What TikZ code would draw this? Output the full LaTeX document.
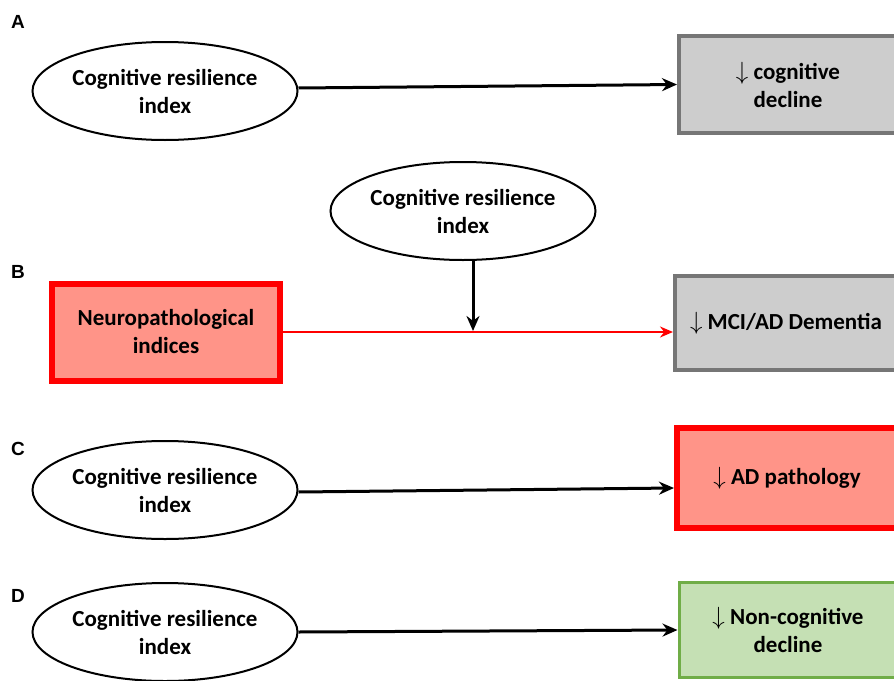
\documentclass[tikz,border=0pt]{standalone}
\usepackage{fontspec}
\setmainfont{Carlito}
\newfontfamily\panelfont{Liberation Sans}
\usepackage{tikz}
\usetikzlibrary{arrows.meta,shapes,positioning}
\usepackage{xcolor}
\definecolor{crgray}{RGB}{205,205,205}
\definecolor{crgraydark}{RGB}{118,118,118}
\definecolor{crred}{RGB}{255,0,0}
\definecolor{crsalmon}{RGB}{255,148,136}
\definecolor{crgreen}{RGB}{112,173,71}
\definecolor{crlightgreen}{RGB}{197,224,180}
\tikzstyle{arrow} = [line width=3pt,-{Stealth[length=15pt,width=13pt]}]
\tikzstyle{redarrow} = [line width=2pt,-{Stealth[length=13pt,width=11pt]},color=crred]
\tikzstyle{panel} = [font=\panelfont\bfseries\fontsize{19}{22}\selectfont]
\tikzstyle{resil} = [ellipse, draw, line width=2pt, fill=white, minimum width=265pt, minimum height=98pt, inner sep=0pt, align=center, font=\bfseries\fontsize{23}{28}\selectfont]
\tikzstyle{outcome} = [rectangle, minimum width=218pt, minimum height=97pt, inner sep=0pt, align=center, font=\bfseries\fontsize{23}{28}\selectfont]
\tikzstyle{graybox} = [outcome, draw=crgraydark, fill=crgray, line width=4pt]
\tikzstyle{redbox} = [outcome, draw=crred, fill=crsalmon, line width=6pt]
\tikzstyle{greenbox} = [outcome, draw=crgreen, fill=crlightgreen, line width=3pt]

\begin{document}
\begin{tikzpicture}[x=1pt, y=-1pt, node distance=623pt]
\useasboundingbox (0,0) rectangle (894,680);

% Panel labels
\node (lbla) [panel] at (18,22) {A};
\node (lblb) [panel] at (18,272) {B};
\node (lblc) [panel] at (18,449) {C};
\node (lbld) [panel] at (18,596) {D};

% A
\node (ca) [resil] at (165,91) {Cognitive resilience\\index};
\node (decl) [graybox, right of=ca, yshift=6.5pt] {$\downarrow$ cognitive\\decline};

% B
\node (cb) [resil] at (463,211) {Cognitive resilience\\index};
\node (neuro) [redbox, minimum width=228pt, minimum height=97pt] at (166,332) {Neuropathological\\indices};
\node (dem) [graybox, right of=neuro, node distance=620pt, yshift=9pt, minimum width=222pt, minimum height=94pt] {$\downarrow$ MCI/AD Dementia};
\coordinate (join) at (473,331);

% C
\node (cc) [resil] at (165,490) {Cognitive resilience\\index};
\node (path) [redbox, right of=cc, node distance=622pt, yshift=12pt, minimum width=220pt, minimum height=100pt] {$\downarrow$ AD pathology};

% D
\node (cd) [resil] at (165,632) {Cognitive resilience\\index};
\node (noncog) [greenbox, right of=cd, yshift=2pt, minimum height=95pt] {$\downarrow$ Non-cognitive\\decline};

% Connections
\draw[arrow] ([yshift=3pt]ca.east) -- (decl.west);
\draw[redarrow] (neuro.east) -- (neuro.east -| dem.west);
\draw[arrow] (join |- cb.south) -- (join);
\draw[arrow] ([yshift=-2pt]cc.east) -- ([yshift=-10pt]path.west);
\draw[arrow] (cd.east) -- (noncog.west);
\end{tikzpicture}
\end{document}
